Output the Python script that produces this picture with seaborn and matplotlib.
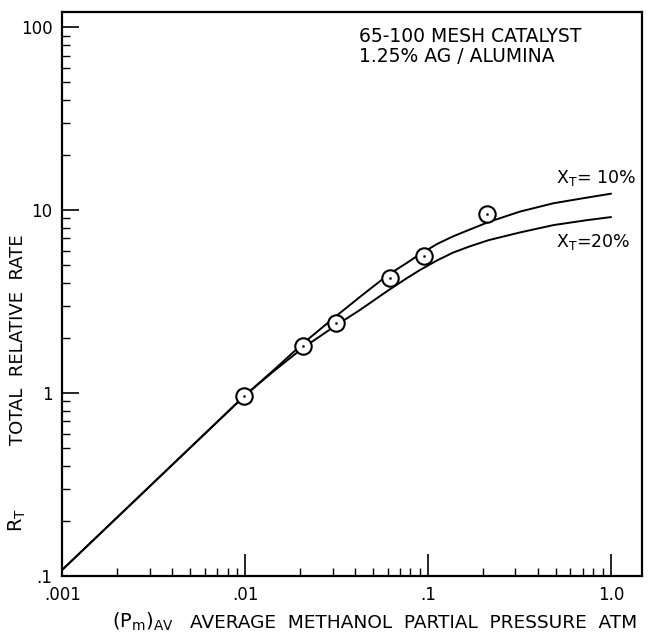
import numpy as np
import pandas as pd
import matplotlib
matplotlib.use("Agg")
import matplotlib.pyplot as plt
import matplotlib.ticker as mticker
import seaborn as sns

# measured points (circles)
pts_x = [0.0099, 0.0206, 0.0313, 0.0615, 0.0946, 0.211]
pts_y = [0.96, 1.81, 2.40, 4.24, 5.60, 9.48]

# curves (same x grid for both)
curve_x = [0.001, 0.01, 0.0145, 0.0206, 0.0309, 0.0425, 0.0603, 0.0766, 0.0904,
           0.112, 0.137, 0.170, 0.214, 0.318, 0.484, 0.736, 1.0]
curve_10 = [0.108, 0.973, 1.35, 1.86, 2.60, 3.36, 4.42, 5.15, 5.75,
            6.53, 7.19, 7.85, 8.61, 9.82, 10.9, 11.7, 12.3]
curve_20 = [0.108, 0.973, 1.33, 1.76, 2.32, 2.85, 3.63, 4.25, 4.71,
            5.31, 5.86, 6.35, 6.85, 7.55, 8.28, 8.81, 9.16]

x_ticks = [0.001, 0.01, 0.1, 1.0]
x_ticklabels = ['.001', '.01', '.1', '1.0']
y_ticks = [0.1, 1, 10, 100]
y_ticklabels = ['.1', '1', '10', '100']

curves = pd.DataFrame({
    'x': curve_x + curve_x,
    'y': curve_10 + curve_20,
    'conv': ['10'] * len(curve_x) + ['20'] * len(curve_x),
})
points = pd.DataFrame({'x': pts_x, 'y': pts_y})

sns.set_style("ticks")
plt.rcParams['font.family'] = ['DejaVu Sans']
plt.rcParams['text.color'] = 'black'
plt.rcParams['xtick.color'] = 'black'
plt.rcParams['ytick.color'] = 'black'

fig = plt.figure(figsize=(6.56, 6.37), dpi=100)
ax = fig.add_axes([0.095, 0.096, 0.884, 0.885])

sns.lineplot(data=curves, x='x', y='y', hue='conv', palette=['black', 'black'],
             linewidth=1.4, legend=False, ax=ax, zorder=2)
sns.scatterplot(data=points, x='x', y='y', s=140, marker='o', facecolor='white',
                edgecolor='black', linewidth=1.5, ax=ax, zorder=3)
sns.scatterplot(data=points, x='x', y='y', s=3, marker='o', color='black',
                edgecolor='black', ax=ax, zorder=4)

ax.set_xscale('log')
ax.set_yscale('log')
ax.set_xlim(0.001, 1.48)
ax.set_ylim(0.1, 121)

ax.set_xticks(x_ticks)
ax.set_xticklabels(x_ticklabels)
ax.set_yticks(y_ticks)
ax.set_yticklabels(y_ticklabels)
ax.xaxis.set_minor_locator(mticker.LogLocator(base=10, subs=np.arange(2, 10)))
ax.yaxis.set_minor_locator(mticker.LogLocator(base=10, subs=np.arange(2, 10)))
ax.xaxis.set_minor_formatter(mticker.NullFormatter())
ax.yaxis.set_minor_formatter(mticker.NullFormatter())

ax.tick_params(axis='x', which='major', direction='in', length=16, width=1.2,
               labelsize=12, pad=7)
ax.tick_params(axis='y', which='major', direction='in', length=12, width=1.2,
               labelsize=12, pad=7)
ax.tick_params(axis='both', which='minor', direction='in', length=6, width=1.0)
ax.tick_params(top=False, right=False, which='both')
for s in ax.spines.values():
    s.set_linewidth(1.6)
    s.set_color('black')

ax.set_xlabel('')
ax.set_ylabel('')

# annotations
fig.text(0.548, 0.934, '65-100 MESH CATALYST', fontsize=13.5)
fig.text(0.548, 0.903, '1.25% AG / ALUMINA', fontsize=13.5)
fig.text(0.847, 0.713, r'$\mathregular{X_T}$= 10%', fontsize=12.5)
fig.text(0.847, 0.612, r'$\mathregular{X_T}$=20%', fontsize=12.5)

fig.text(0.027, 0.466, 'TOTAL  RELATIVE  RATE', rotation=90, fontsize=13,
         ha='center', va='center')
fig.text(0.027, 0.184, r'$\mathregular{R_T}$', rotation=90, fontsize=14,
         ha='center', va='center')
fig.text(0.170, 0.014, r'$\mathregular{(P_m)_{AV}}$', fontsize=14)
fig.text(0.290, 0.014, 'AVERAGE  METHANOL  PARTIAL  PRESSURE  ATM', fontsize=13.3)

fig.savefig('out.png', dpi=100)
